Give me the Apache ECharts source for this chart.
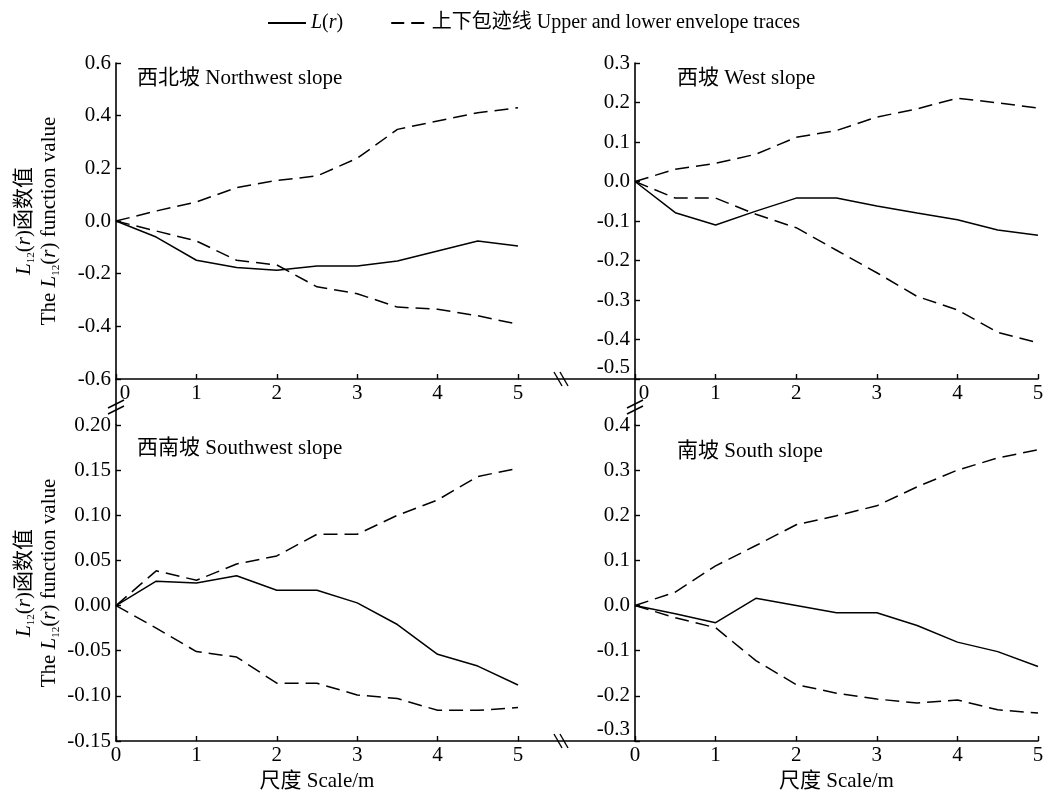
<!DOCTYPE html>
<html>
<head>
<meta charset="UTF-8">
<script src="https://cdn.jsdelivr.net/npm/echarts@6/dist/echarts.min.js"></script>
<style>
  html, body { margin: 0; padding: 0; background: #fff; }
  #c { width: 1051px; height: 796px; }
</style>
</head>
<body>
<div id="c"></div>
<script>
// 尺度 r (m)
const scales = [0, 0.5, 1, 1.5, 2, 2.5, 3, 3.5, 4, 4.5, 5];

// 西北坡
const nwL  = [0, -0.061, -0.149, -0.177, -0.187, -0.171, -0.171, -0.152, -0.114, -0.076, -0.095];
const nwUp = [0, 0.038, 0.072, 0.127, 0.154, 0.171, 0.238, 0.348, 0.380, 0.411, 0.430];
const nwLo = [0, -0.038, -0.076, -0.149, -0.167, -0.250, -0.276, -0.327, -0.335, -0.360, -0.392];
// 西坡
const wL  = [0, -0.079, -0.110, -0.075, -0.042, -0.042, -0.062, -0.080, -0.097, -0.123, -0.136];
const wUp = [0, 0.031, 0.046, 0.069, 0.112, 0.129, 0.163, 0.184, 0.211, 0.199, 0.186];
const wLo = [0, -0.042, -0.042, -0.083, -0.117, -0.174, -0.231, -0.291, -0.325, -0.382, -0.408];
// 西南坡
const swL  = [0, 0.027, 0.025, 0.033, 0.017, 0.017, 0.003, -0.021, -0.054, -0.067, -0.088];
const swUp = [0, 0.0385, 0.028, 0.046, 0.055, 0.079, 0.079, 0.100, 0.117, 0.143, 0.152];
const swLo = [0, -0.025, -0.051, -0.057, -0.086, -0.086, -0.099, -0.103, -0.116, -0.116, -0.113];
// 南坡
const sL  = [0, -0.018, -0.038, 0.016, 0.000, -0.016, -0.016, -0.044, -0.081, -0.102, -0.135];
const sUp = [0, 0.030, 0.088, 0.133, 0.179, 0.199, 0.221, 0.263, 0.300, 0.327, 0.345];
const sLo = [0, -0.027, -0.049, -0.122, -0.175, -0.194, -0.207, -0.216, -0.209, -0.231, -0.238];

const panelTitles = ['西北坡 Northwest slope', '西坡 West slope', '西南坡 Southwest slope', '南坡 South slope'];
// y 轴刻度: [min, max, interval, decimals]
const yTicks = [[-0.6, 0.6, 0.2, 1], [-0.5, 0.3, 0.1, 1], [-0.15, 0.2, 0.05, 2], [-0.3, 0.4, 0.1, 1]];
const xTicks = [0, 5, 1];

const nameL = 'L(r)';
const nameEnv = '上下包迹线 Upper and lower envelope traces';

// 版面
const L = 116, LW = 402, R = 635, RW = 403, T1 = 63, T2 = 425, H = 316;
const FONT = "'Liberation Serif', 'Noto Sans CJK SC', serif";
const black = '#000';

const grids = [
  { left: L, top: T1, width: LW, height: H },
  { left: R, top: T1, width: RW, height: H },
  { left: L, top: T2, width: LW, height: H },
  { left: R, top: T2, width: RW, height: H }
];

const yName = '{i|L}{s|12}{n|(}{i|r}{n|)函数值}\n{n|The }{i|L}{s|12}{n|(}{i|r}{n|) function value}';
const nameRich = {
  n: { fontSize: 21, fontFamily: FONT, color: black, lineHeight: 25 },
  i: { fontSize: 21, fontFamily: FONT, color: black, fontStyle: 'italic', lineHeight: 25 },
  s: { fontSize: 11, fontFamily: FONT, color: black, lineHeight: 25, verticalAlign: 'bottom' }
};

const xAxes = grids.map((g, k) => ({
  type: 'value', gridIndex: k,
  min: xTicks[0], max: xTicks[1], interval: xTicks[2],
  axisLine: { onZero: false, lineStyle: { color: black, width: 1.6 } },
  axisTick: { inside: true, length: 5, lineStyle: { color: black, width: 1.4 } },
  splitLine: { show: false },
  axisLabel: {
    color: black, fontFamily: FONT, fontSize: 21, margin: 4,
    formatter: v => (k < 2 && v === 0) ? '{z|0}' : String(v),
    rich: { z: { fontSize: 21, fontFamily: FONT, color: black, padding: [0, 0, 0, 18] } }
  },
  name: k >= 2 ? '尺度 Scale/m' : '',
  nameLocation: 'middle', nameGap: 30,
  nameTextStyle: { color: black, fontFamily: FONT, fontSize: 21 }
}));

const yAxes = grids.map((g, k) => {
  const t = yTicks[k];
  const raiseMin = (k === 1 || k === 3);
  return {
    type: 'value', gridIndex: k,
    min: t[0], max: t[1], interval: t[2],
    axisLine: { onZero: false, lineStyle: { color: black, width: 1.6 } },
    axisTick: { inside: true, length: 5, lineStyle: { color: black, width: 1.4 } },
    splitLine: { show: false },
    axisLabel: {
      color: black, fontFamily: FONT, fontSize: 21, margin: 5,
      formatter: v => {
        const s = v.toFixed(t[3]);
        return (raiseMin && Math.abs(v - t[0]) < 1e-9) ? '{m|' + s + '}' : s;
      },
      rich: { m: { fontSize: 21, fontFamily: FONT, color: black, padding: [0, 0, 24, 0] } }
    },
    name: (k === 0 || k === 2) ? yName : '',
    nameLocation: 'middle', nameRotate: 90, nameGap: 54,
    nameTextStyle: { rich: nameRich, align: 'center' }
  };
});

function pairs(arr) { return scales.map((x, i) => [x, arr[i]]); }

const panelData = [[nwL, nwUp, nwLo], [wL, wUp, wLo], [swL, swUp, swLo], [sL, sUp, sLo]];
const series = [];
panelData.forEach((d, k) => {
  series.push({
    name: nameL, type: 'line', xAxisIndex: k, yAxisIndex: k, data: pairs(d[0]),
    symbol: 'none', lineStyle: { color: black, width: 1.5, type: 'solid' }, itemStyle: { color: black }
  });
  [d[1], d[2]].forEach(arr => series.push({
    name: nameEnv, type: 'line', xAxisIndex: k, yAxisIndex: k, data: pairs(arr),
    symbol: 'none', lineStyle: { color: black, width: 1.5, type: [14, 7] }, itemStyle: { color: black }
  }));
});

const titlePos = [[137, 68], [677, 68], [137, 438], [677, 441]];
const titles = panelTitles.map((t, k) => ({
  text: t, left: titlePos[k][0], top: titlePos[k][1], padding: 0,
  textStyle: { color: black, fontFamily: FONT, fontSize: 21, fontWeight: 'normal' }
}));

// 断轴连接线和断裂符号
const ln = (x1, y1, x2, y2, w) => ({
  type: 'line', silent: true, z: 100,
  shape: { x1, y1, x2, y2 }, style: { stroke: black, lineWidth: w || 1.6 }
});
const B1 = T1 + H, B2 = T2 + H, bx = 561, by = 407;
const graphics = [
  ln(L, B1, L, T2), ln(R, B1, R, T2),
  ln(L + LW, B1, R, B1), ln(L + LW, B2, R, B2)
];
[B1, B2].forEach(y => {
  graphics.push({ type: 'rect', silent: true, z: 99, shape: { x: bx - 3, y: y - 3, width: 6, height: 6 }, style: { fill: '#fff' } });
  [-3, 3].forEach(dx => graphics.push(ln(bx + dx - 4, y - 7, bx + dx + 4, y + 7, 1.4)));
});
[L, R].forEach(x => {
  graphics.push({ type: 'rect', silent: true, z: 99, shape: { x: x - 3, y: by - 3, width: 6, height: 6 }, style: { fill: '#fff' } });
  [-3, 3].forEach(dy => graphics.push(ln(x - 8, by + dy + 4, x + 8, by + dy - 4, 1.4)));
});

const chart = echarts.init(document.getElementById('c'), null, { renderer: 'canvas' });
chart.setOption({
  backgroundColor: '#fff',
  animation: false,
  title: titles,
  legend: {
    data: [
      { name: nameL, icon: 'path://M0,0H40V2H0Z' },
      { name: nameEnv, icon: 'path://M0,0H13V2H0ZM20,0H33V2H20Z' }
    ],
    left: 263, top: 8,
    itemWidth: 38, itemHeight: 2, itemGap: 48,
    formatter: n => n === nameL ? '{i|L}{n|(}{i|r}{n|)}' : n,
    textStyle: {
      color: black, fontFamily: FONT, fontSize: 20,
      rich: {
        n: { fontSize: 20, fontFamily: FONT, color: black },
        i: { fontSize: 20, fontFamily: FONT, color: black, fontStyle: 'italic' }
      }
    }
  },
  grid: grids,
  xAxis: xAxes,
  yAxis: yAxes,
  series: series,
  graphic: graphics
});
</script>
</body>
</html>
